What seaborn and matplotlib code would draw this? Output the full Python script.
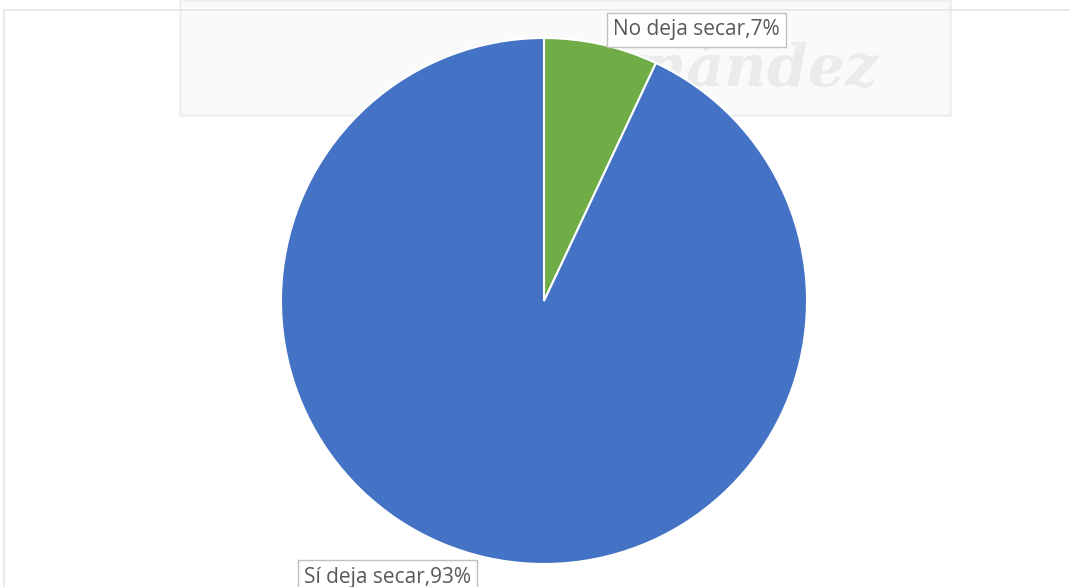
import matplotlib
matplotlib.use("Agg")
import matplotlib.pyplot as plt
import seaborn as sns

categories = ["No deja secar", "Sí deja secar"]
values = [7, 93]
colors = ["#70AD47", "#4472C4"]

sns.set_theme(style="white")
plt.rcParams["font.family"] = ["Open Sans", "DejaVu Sans"]

W, H = 1070, 587
fig = plt.figure(figsize=(W / 100, H / 100), dpi=100)
fig.patch.set_facecolor("white")

# faint frame lines of the chart area
fig.add_artist(plt.Line2D([4 / W, 4 / W], [0, 1 - 10 / H], color="#E6E6E6", lw=1.2))
fig.add_artist(plt.Line2D([4 / W, 1], [1 - 10 / H, 1 - 10 / H], color="#E6E6E6", lw=1.2))

# faint watermark box (behind the pie)
fig.add_artist(plt.Rectangle((180 / W, 1 - 115 / H), 770 / W, 115 / H,
                             fc="#FAFAFA", ec="#F0F0F0", lw=2, zorder=-2))
fig.text(700 / W, 1 - 70 / H, "Hernández", fontsize=42, family="DejaVu Serif",
         style="italic", color="#EBEBEB", ha="center", va="center",
         weight="bold", zorder=-1)

cx, cy, r = 544, 587 - 301, 263
ax = fig.add_axes([(cx - r) / W, (cy - r) / H, 2 * r / W, 2 * r / H])
ax.patch.set_alpha(0)
wedges, _ = ax.pie(values, colors=colors, startangle=90, counterclock=False,
                   wedgeprops=dict(edgecolor="white", linewidth=1.5))
ax.set_xlim(-1, 1)
ax.set_ylim(-1, 1)
ax.axis("off")

labels = [f"{c},{v}%" for c, v in zip(categories, values)]
positions = [(613, 30), (304, 577)]
for lab, (x, y) in zip(labels, positions):
    fig.text(x / W, 1 - y / H, lab, fontsize=15, color="#595959",
             ha="left", va="center", zorder=5,
             bbox=dict(boxstyle="square,pad=0.3", fc="white", ec="#BFBFBF", lw=1))

fig.savefig("out.png", dpi=100, facecolor="white")
